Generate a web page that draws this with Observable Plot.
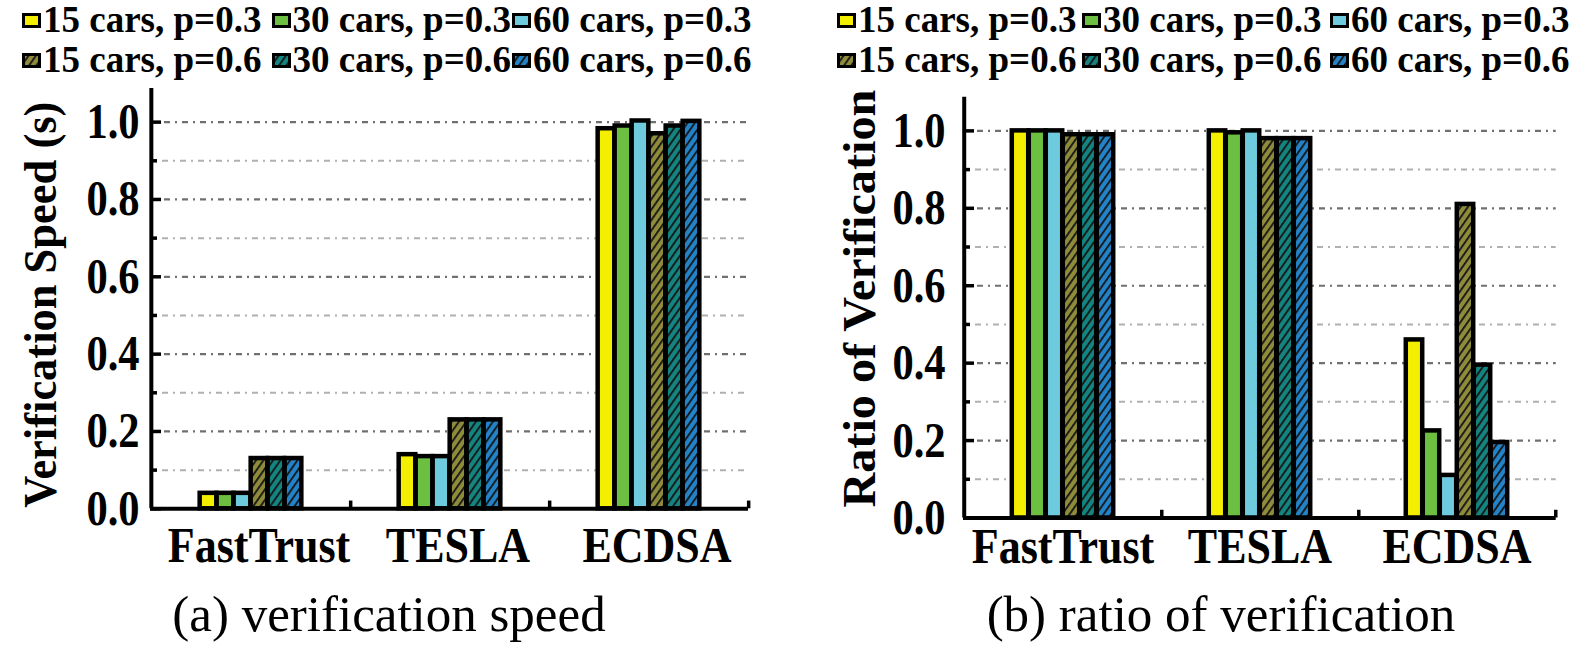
<!DOCTYPE html>
<html><head><meta charset="utf-8">
<script src="https://cdn.jsdelivr.net/npm/d3@7"></script>
<script src="https://cdn.jsdelivr.net/npm/@observablehq/plot@0.6"></script>
<style>
html,body{margin:0;padding:0;background:#fff;width:1589px;height:649px;overflow:hidden;}
body{position:relative;font-family:"Liberation Serif","Times New Roman",serif;color:#000;}
.leg{position:absolute;font-weight:bold;font-size:37px;line-height:37px;white-space:nowrap;}
.sw{position:absolute;}
.cap{position:absolute;font-size:51px;line-height:51px;white-space:nowrap;text-align:center;width:640px;}
.panel{position:absolute;top:80px;}
</style></head><body>
<svg width="0" height="0" style="position:absolute;left:0;top:0"><defs id="defs"></defs></svg>
<script>
// ---- data ----
const groups = ["FastTrust", "TESLA", "ECDSA"];
const series = ["15 cars, p=0.3", "30 cars, p=0.3", "60 cars, p=0.3", "15 cars, p=0.6", "30 cars, p=0.6", "60 cars, p=0.6"];
const speedFastTrust = [0.04, 0.04, 0.04, 0.13, 0.13, 0.13];
const speedTESLA = [0.14, 0.135, 0.135, 0.23, 0.23, 0.23];
const speedECDSA = [0.983, 0.99, 1.003, 0.97, 0.99, 1.002];
const ratioFastTrust = [1.0, 1.0, 1.0, 0.99, 0.99, 0.99];
const ratioTESLA = [1.0, 0.995, 1.0, 0.98, 0.98, 0.98];
const ratioECDSA = [0.46, 0.225, 0.11, 0.81, 0.395, 0.195];
const yMajorTicks = [0, 0.2, 0.4, 0.6, 0.8, 1.0];
const yMinorTicks = [0.1, 0.3, 0.5, 0.7, 0.9];
const yLabels = ["Verification Speed (s)", "Ratio of Verification"];
const captions = ["(a) verification speed", "(b) ratio of verification"];

// ---- styles ----
const hatchBases = {hOlive: "#8e8b3a", hTeal: "#13847f", hBlue: "#2383c8"};
const seriesFills = ["#f4ee00", "#6cbf40", "#6ecbdd", "url(#hOlive)", "url(#hTeal)", "url(#hBlue)"];

const NS = "http://www.w3.org/2000/svg";
const defs = document.getElementById("defs");
for (const [id, base] of Object.entries(hatchBases)) {
  const p = document.createElementNS(NS, "pattern");
  p.setAttribute("id", id);
  p.setAttribute("patternUnits", "userSpaceOnUse");
  p.setAttribute("width", 6); p.setAttribute("height", 6);
  p.setAttribute("patternTransform", "rotate(35)");
  const r = document.createElementNS(NS, "rect");
  r.setAttribute("width", 6); r.setAttribute("height", 6); r.setAttribute("fill", base);
  const s = document.createElementNS(NS, "rect");
  s.setAttribute("width", 1.8); s.setAttribute("height", 6); s.setAttribute("fill", "#151515");
  p.appendChild(r); p.appendChild(s); defs.appendChild(p);
}

function panel(values, cfg) {
  const data = [];
  groups.forEach((g, gi) => series.forEach((s, si) => data.push({group: g, series: s, si, value: values[gi][si]})));
  const plotW = cfg.width - cfg.mL - cfg.mR;
  const step = plotW / groups.length;
  const barW = 17;
  const inset = (step - barW) / 2;
  const dash = "6,5,2,5";
  const svg = Plot.plot({
    width: cfg.width, height: cfg.height,
    marginLeft: cfg.mL, marginRight: cfg.mR, marginTop: cfg.mT, marginBottom: cfg.mB,
    x: {domain: groups, padding: 0, axis: null},
    y: {domain: [0, 1.087], axis: null},
    style: {fontFamily: '"Liberation Serif","Times New Roman",serif', fontSize: "50px", fontWeight: "bold", color: "#000", background: "transparent", overflow: "visible"},
    marks: [
      Plot.ruleY(yMinorTicks, {stroke: "#b0b0b0", strokeWidth: 2, strokeDasharray: dash, insetLeft: 12}),
      Plot.ruleY(yMajorTicks.filter(d => d > 0), {stroke: "#707070", strokeWidth: 2.2, strokeDasharray: dash, insetLeft: 14}),
      ...series.map((s, si) => Plot.barY(data.filter(d => d.si === si), {
        x: "group", y: "value", fill: seriesFills[si], stroke: "#000", strokeWidth: 4.5,
        insetLeft: inset, insetRight: inset, dx: (si - 2.5) * barW
      })),
      Plot.ruleY(yMajorTicks, {stroke: "#000", strokeWidth: 3.5, insetRight: plotW - 11}),
      Plot.ruleY(yMinorTicks, {stroke: "#000", strokeWidth: 3.5, insetRight: plotW - 7}),
      Plot.ruleX(groups, {y1: 0, y2: 0.02, dx: step / 2, stroke: "#000", strokeWidth: 3.5}),
      Plot.ruleY([0], {stroke: "#000", strokeWidth: 4}),
      Plot.ruleX([groups[0]], {dx: -step / 2, stroke: "#000", strokeWidth: 4}),
      Plot.axisX({tickSize: 0, tickPadding: cfg.xPad, dx: cfg.xDx, fontSize: 50, fontWeight: "bold", label: null}),
      Plot.axisY({ticks: yMajorTicks, tickSize: 0, tickPadding: cfg.yPad, tickFormat: d3.format(".1f"), fontSize: 50, fontWeight: "bold", label: null}),
      Plot.text([cfg.label], {frameAnchor: "left", textAnchor: "middle", rotate: -90, dx: cfg.labelDx, dy: cfg.labelDy, fontSize: 46, fontWeight: "bold"})
    ]
  });
  const wrap = document.createElement("div");
  wrap.className = "panel";
  wrap.style.left = cfg.left + "px";
  wrap.appendChild(svg);
  document.body.appendChild(wrap);
  svg.querySelectorAll('g[aria-label="x-axis tick label"] text').forEach(t => {
    t.setAttribute("textLength", t.getComputedTextLength() * 0.88);
    t.setAttribute("lengthAdjust", "spacingAndGlyphs");
  });
  svg.querySelectorAll('g[aria-label="y-axis tick label"] text').forEach(t => {
    t.setAttribute("textLength", t.getComputedTextLength() * 0.85);
    t.setAttribute("lengthAdjust", "spacingAndGlyphs");
  });
  svg.querySelectorAll('g[aria-label="text"] text').forEach(t => {
    t.setAttribute("textLength", cfg.labelLen);
    t.setAttribute("lengthAdjust", "spacingAndGlyphs");
  });
}

panel([speedFastTrust, speedTESLA, speedECDSA], {
  left: 0, width: 790, height: 500, mL: 150, mR: 42, mT: 8, mB: 71.7,
  xPad: 18, xDx: 8, yPad: 11, label: yLabels[0], labelDx: -109, labelDy: 6, labelLen: 406
});
panel([ratioFastTrust, ratioTESLA, ratioECDSA], {
  left: 800, width: 789, height: 500, mL: 163, mR: 33.3, mT: 16.7, mB: 62.5,
  xPad: 9, xDx: 0, yPad: 18, label: yLabels[1], labelDx: -103, labelDy: -9, labelLen: 418
});

function legend(x0, offsets) {
  series.forEach((s, si) => {
    const row = Math.floor(si / 3), col = si % 3;
    const x = x0 + offsets[col];
    const sw = document.createElementNS(NS, "svg");
    sw.setAttribute("width", 20); sw.setAttribute("height", 16);
    sw.setAttribute("class", "sw");
    sw.style.left = x + "px"; sw.style.top = (13 + row * 40) + "px";
    const r = document.createElementNS(NS, "rect");
    r.setAttribute("x", 1.5); r.setAttribute("y", 1.5); r.setAttribute("width", 16); r.setAttribute("height", 12);
    r.setAttribute("fill", seriesFills[si]); r.setAttribute("stroke", "#000"); r.setAttribute("stroke-width", 3);
    sw.appendChild(r);
    document.body.appendChild(sw);
    const t = document.createElement("div");
    t.className = "leg";
    t.textContent = s;
    t.style.left = (x + 21) + "px"; t.style.top = (1 + row * 40) + "px";
    document.body.appendChild(t);
  });
}
legend(22, [0, 249.6, 490]);
legend(837, [0, 245, 493]);

captions.forEach((c, i) => {
  const d = document.createElement("div");
  d.className = "cap";
  d.textContent = c;
  d.style.left = ([389, 1221][i] - 320) + "px";
  d.style.top = "589px";
  document.body.appendChild(d);
});
</script>
</body></html>
